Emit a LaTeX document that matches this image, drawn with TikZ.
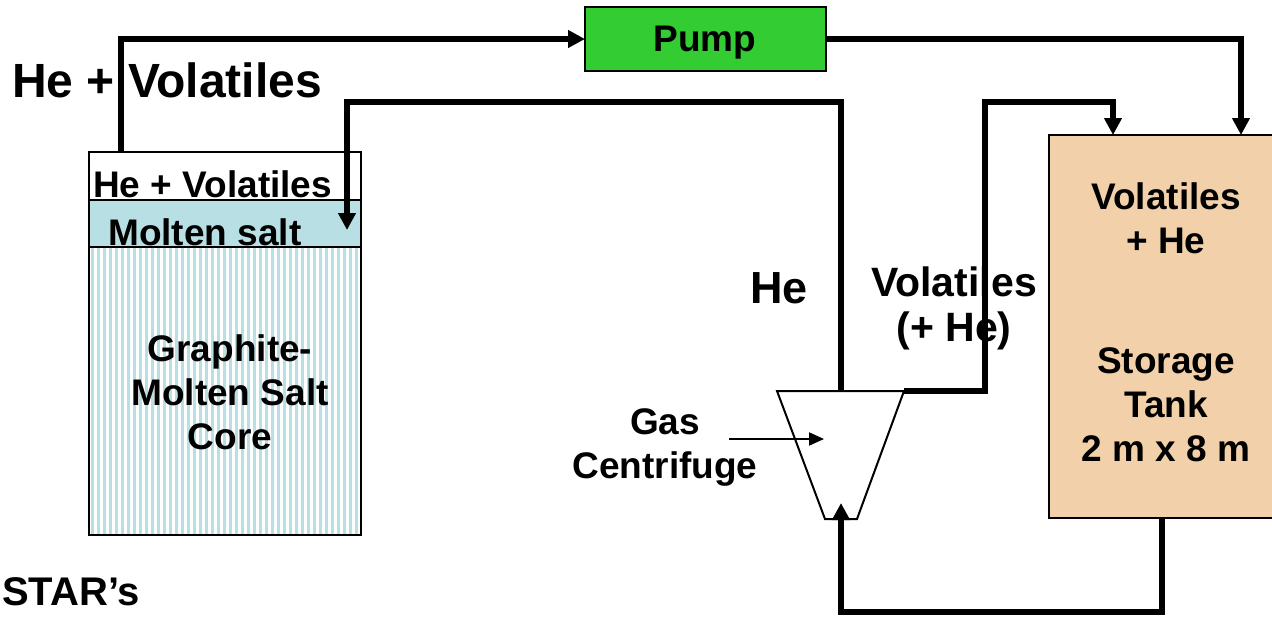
\documentclass[tikz,border=0pt]{standalone}
\usepackage{fontspec}
\setmainfont{Liberation Sans}
\usetikzlibrary{arrows.meta}
\definecolor{salt}{RGB}{183,223,228}
\definecolor{pumpgreen}{RGB}{51,204,51}
\definecolor{tankfill}{RGB}{242,208,169}
\begin{document}
\begin{tikzpicture}[x=1pt,y=-1pt,
  box/.style={draw=black, line width=2pt, inner sep=0pt, outer sep=0pt, anchor=north west},
  pipe/.style={line width=5.2pt, -{Triangle[width=17pt,length=17pt]}},
  txt/.style={inner sep=0pt, font=\fontsize{37}{44}\selectfont\bfseries, align=center},
  bigtxt/.style={inner sep=0pt, font=\fontsize{48}{54}\selectfont\bfseries, align=center},
  midtxt/.style={inner sep=0pt, font=\fontsize{41}{45}\selectfont\bfseries, align=center}]
\useasboundingbox (0,0) rectangle (1272,616);
% core vessel
\fill[white] (89,152) rectangle (361,535);
\foreach \x in {90.5,96.5,...,358} \fill[salt] (\x,247) rectangle ++(3.5,288);
\fill[salt] (89,200) rectangle (361,247);
\draw[line width=2pt] (89,200) -- (361,200);
\draw[line width=2pt] (89,247) -- (361,247);
\node[box, minimum width=272pt, minimum height=383pt] (core) at (89,152) {};
\node[txt, anchor=west] (gasspace) at (93,184) {He + Volatiles};
\node[txt, anchor=west] (saltlbl) at (108,232) {Molten salt};
\node[txt] (corelbl) at (230,392) {Graphite-\\Molten Salt\\Core};
% pump
\node[box, fill=pumpgreen, minimum width=241pt, minimum height=64pt] (pump) at (585,7) {};
\node[txt] (pumplbl) at (705,43) {Pump};
% storage tank
\node[box, fill=tankfill, minimum width=238pt, minimum height=383pt] (tank) at (1049,135) {};
\node[txt] (tanklbl1) at (1166,218) {Volatiles\\+ He};
\node[txt] (tanklbl2) at (1166,405) {Storage\\Tank\\2 m x 8 m};
% centrifuge
\coordinate (ctl) at (777,391);
\coordinate (ctr) at (904,391);
\coordinate (cbr) at (857,519);
\coordinate (cbl) at (825,519);
\draw[line width=2pt, line join=miter, fill=white] (ctl) -- (ctr) -- (cbr) -- (cbl) -- cycle;
% labels
\node[bigtxt] (biglbl) at (167,80) {He + Volatiles};
\node[bigtxt, font=\fontsize{45}{54}\selectfont\bfseries] (helbl) at (779,288) {He};
\node[midtxt] (vollbl) at (954,308) {Volatiles\\(+ He)};
\node[txt] (gclbl) at (665,447) {Gas\\Centrifuge};
\node[inner sep=0pt, anchor=base west, font=\fontsize{40}{44}\selectfont\bfseries] (star) at (2,605) {STAR’s};
% connection points
\coordinate (coreout) at (121,152);
\coordinate (saltin) at (347,230);
\coordinate (tankin1) at (1113,135);
\coordinate (tankin2) at (1241,135);
\coordinate (tankout) at (1162,518);
\coordinate (cenhe) at (841,391);
\coordinate (cenin) at (841,503);
\coordinate (gcfrom) at (729,439);
\coordinate (gcto) at (824,439);
% connectors
\draw[pipe] (coreout) |- (pump.west);
\draw[pipe] (pump.east) -| (tankin2);
\draw[pipe] (cenhe) -- (cenhe |- 0,102) -| (saltin);
\draw[pipe] (ctr) -- (985,391) -- (985,102) -| (tankin1);
\draw[pipe] (tankout) -- (1162,612) -| (cenin);
\draw[line width=2pt, -{Triangle[width=13pt,length=15pt]}] (gcfrom) -- (gcto);
\end{tikzpicture}
\end{document}
